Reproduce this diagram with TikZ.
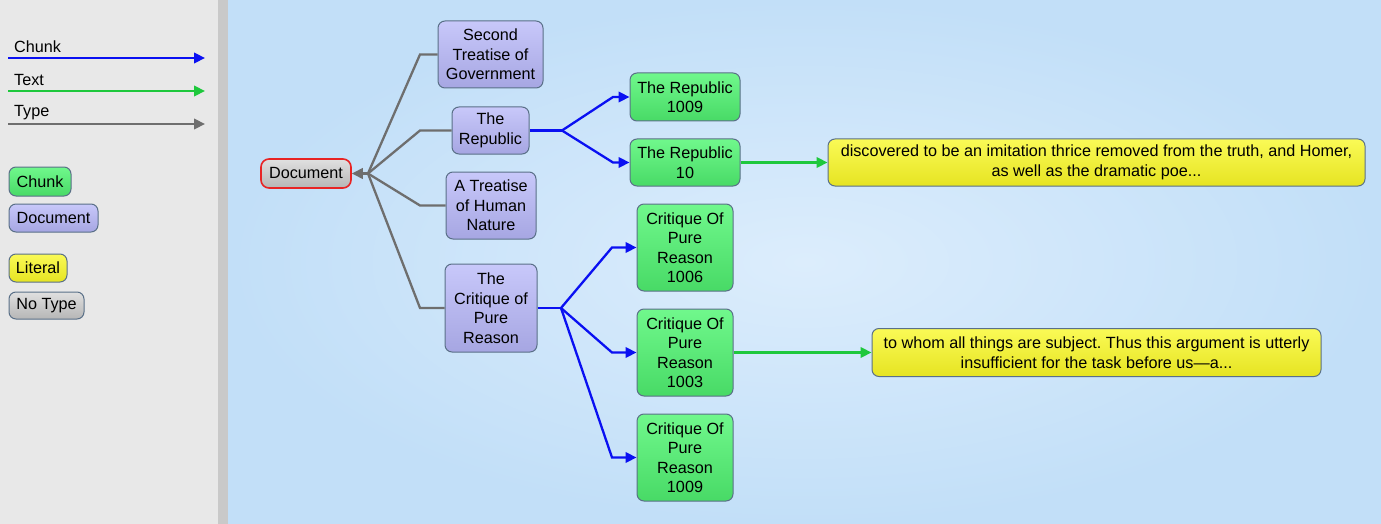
\documentclass[tikz,border=0pt]{standalone}
\usepackage{fontspec}
\setmainfont{Liberation Sans}
\usetikzlibrary{arrows.meta}
\definecolor{chunkblue}{HTML}{0A10F2}
\definecolor{textgreen}{HTML}{1EC83C}
\definecolor{typegray}{HTML}{6E6E6E}
\definecolor{boxborder}{HTML}{5A7088}
\definecolor{docTop}{HTML}{C8C8FA}
\definecolor{docBot}{HTML}{A6A6E2}
\definecolor{chTop}{HTML}{70F88C}
\definecolor{chBot}{HTML}{48DA66}
\definecolor{litTop}{HTML}{FAFA56}
\definecolor{litBot}{HTML}{E6E422}
\definecolor{noTop}{HTML}{E0E0E0}
\definecolor{noBot}{HTML}{B6B6B6}
\definecolor{docRed}{HTML}{E82424}
\definecolor{panel}{HTML}{E8E8E8}
\definecolor{strip}{HTML}{C9C9C9}
\definecolor{bgIn}{HTML}{DCEDFC}
\definecolor{bgOut}{HTML}{C2DFF8}
\begin{document}
\frenchspacing
\begin{tikzpicture}[x=1pt,y=-1pt,
  tip/.style={-{Triangle[length=11pt,width=10.5pt]}},
  chunkline/.style={draw=chunkblue,line width=2.3pt,tip},
  textline/.style={draw=textgreen,line width=2.3pt,tip},
  typeline/.style={draw=typegray,line width=2.3pt,tip},
  box/.style={draw=boxborder,line width=1pt,rounded corners=7pt,inner sep=0pt,
    align=center,font=\fontsize{16.2}{19.5}\selectfont,text=black},
  sz/.style 2 args={minimum width=#1pt,minimum height=#2pt},
  docbox/.style={box,top color=docTop,bottom color=docBot},
  chbox/.style={box,top color=chTop,bottom color=chBot},
  litbox/.style={box,top color=litTop,bottom color=litBot},
  nobox/.style={box,top color=noTop,bottom color=noBot},
  lbl/.style={inner sep=0pt,anchor=west,font=\fontsize{16.2}{19.5}\selectfont,text=black}]
\useasboundingbox (0,0) rectangle (1381,524);
% background
\fill[panel] (0,0) rectangle (218,524);
\fill[strip] (218,0) rectangle (228,524);
\shade[inner color=bgIn,outer color=bgOut] (228,0) rectangle (1381,524);

% legend
\node[lbl] (lgc) at (14,47) {Chunk};
\node[lbl] (lgt) at (14,80) {Text};
\node[lbl] (lgy) at (14,113) {Type};
\coordinate (lc1) at (8,58);   \coordinate (lc2) at (205,58);
\coordinate (lt1) at (8,91);   \coordinate (lt2) at (205,91);
\coordinate (ly1) at (8,124);  \coordinate (ly2) at (205,124);
\draw[chunkline] (lc1) -- (lc2);
\draw[textline] (lt1) -- (lt2);
\draw[typeline] (ly1) -- (ly2);
\node[chbox,sz={62}{29}] (lchunk) at (40,181.5) {Chunk};
\node[docbox,sz={89}{28}] (ldoc) at (53.5,218) {Document};
\node[litbox,sz={58}{28}] (llit) at (38,268) {Literal};
\node[nobox,sz={75}{27}] (lno) at (46.5,305.5) {No Type};

% main nodes
\node[nobox,draw=docRed,line width=1.6pt,rounded corners=8pt,sz={90}{29}] (doc) at (306,173.5) {Document};
\node[docbox,sz={105}{67}] (sec) at (490.5,54.5) {Second\\Treatise of\\Government};
\node[docbox,sz={77}{47}] (rep) at (490.5,130.5) {The\\Republic};
\node[docbox,sz={90}{67}] (hum) at (491,205.5) {A Treatise\\of Human\\Nature};
\node[docbox,sz={92}{88}] (cpr) at (491,308) {The\\Critique of\\Pure\\Reason};
\node[chbox,sz={110}{48}] (r1009) at (685,97) {The Republic\\1009};
\node[chbox,sz={110}{47}] (r10) at (685,162.5) {The Republic\\10};
\node[chbox,sz={96}{87}] (c1006) at (685,247.5) {Critique Of\\Pure\\Reason\\1006};
\node[chbox,sz={96}{87}] (c1003) at (685,352.5) {Critique Of\\Pure\\Reason\\1003};
\node[chbox,sz={96}{87}] (c1009) at (685,457.5) {Critique Of\\Pure\\Reason\\1009};
\node[litbox,sz={537}{47}] (y1) at (1096.5,162.5) {discovered to be an imitation thrice removed from the truth, and Homer,\\as well as the dramatic poe...};
\node[litbox,sz={449}{48}] (y2) at (1096.5,352.5) {to whom all things are subject. Thus this argument is utterly\\insufficient for the task before us\textemdash a...};

% junctions
\coordinate (dj) at (368,173.5);
\coordinate (ex) at (420,0);
\coordinate (rj) at (562,130.5);
\coordinate (bx) at (613,0);
\coordinate (cj) at (561,308);
\coordinate (cx) at (612,0);

% type connectors
\draw[typeline,-] (sec.west) -- (ex |- sec.west) -- (dj);
\draw[typeline,-] (rep.west) -- (ex |- rep.west) -- (dj);
\draw[typeline,-] (hum.west) -- (ex |- hum.west) -- (dj);
\draw[typeline,-] (cpr.west) -- (ex |- cpr.west) -- (dj);
\draw[typeline] (dj) -- (doc.east);

% chunk connectors
\draw[chunkline,-] (rep.east) -- (rj);
\draw[chunkline] (rj) -- (bx |- r1009.west) -- (r1009.west);
\draw[chunkline] (rj) -- (bx |- r10.west) -- (r10.west);
\draw[chunkline,-] (cpr.east) -- (cj);
\draw[chunkline] (cj) -- (cx |- c1006.west) -- (c1006.west);
\draw[chunkline] (cj) -- (cx |- c1003.west) -- (c1003.west);
\draw[chunkline] (cj) -- (cx |- c1009.west) -- (c1009.west);

% text connectors
\draw[textline] (r10.east) -- (y1.west);
\draw[textline] (c1003.east) -- (y2.west);
\end{tikzpicture}
\end{document}
